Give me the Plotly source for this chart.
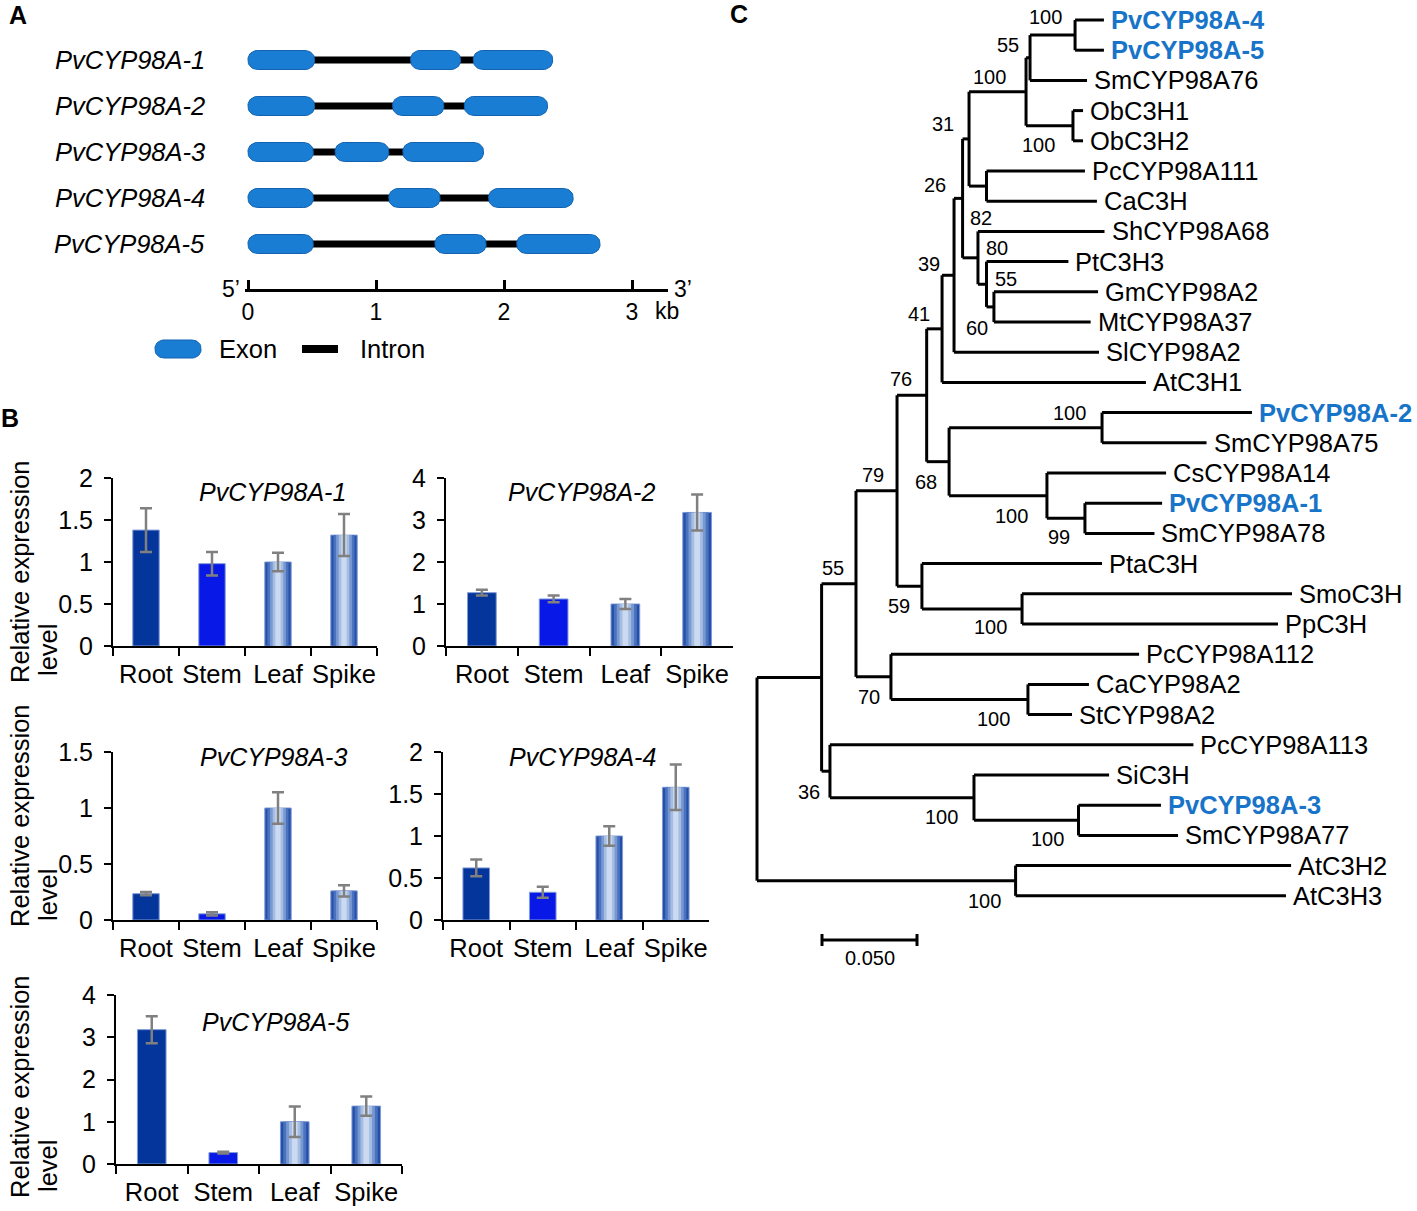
import plotly.graph_objects as go

W, H = 1417, 1211
FONT = "Liberation Sans, Arial, sans-serif"


def fx(px):
    return px / W


def fy(px):
    return 1 - px / H


# ---------------- Panel A data ----------------
gene_names = ["PvCYP98A-1", "PvCYP98A-2", "PvCYP98A-3", "PvCYP98A-4", "PvCYP98A-5"]
exon_starts = [[0.0, 1.27, 1.76], [0.0, 1.13, 1.69], [0.0, 0.68, 1.21], [0.0, 1.10, 1.88], [0.0, 1.46, 2.10]]
exon_ends = [[0.52, 1.66, 2.38], [0.52, 1.53, 2.34], [0.51, 1.10, 1.84], [0.51, 1.50, 2.54], [0.51, 1.86, 2.75]]
kb_ticks = [0, 1, 2, 3]

# ---------------- Panel B data ----------------
tissues = ["Root", "Stem", "Leaf", "Spike"]
expr_titles = ["PvCYP98A-1", "PvCYP98A-2", "PvCYP98A-3", "PvCYP98A-4", "PvCYP98A-5"]
expr1 = [1.38, 0.98, 1.00, 1.32]
err1 = [0.26, 0.14, 0.11, 0.25]
expr2 = [1.27, 1.12, 1.00, 3.18]
err2 = [0.07, 0.08, 0.12, 0.43]
expr3 = [0.235, 0.055, 1.00, 0.26]
err3 = [0.015, 0.015, 0.14, 0.05]
expr4 = [0.62, 0.33, 1.00, 1.58]
err4 = [0.10, 0.065, 0.115, 0.27]
expr5 = [3.18, 0.27, 1.00, 1.37]
err5 = [0.32, 0.02, 0.36, 0.23]
y_max = [2, 4, 1.5, 2, 4]
y_dtick = [0.5, 1, 0.5, 0.5, 1]

# ---------------- Panel C data ----------------
leaf_names = ["PvCYP98A-4", "PvCYP98A-5", "SmCYP98A76", "ObC3H1", "ObC3H2", "PcCYP98A111", "CaC3H",
              "ShCYP98A68", "PtC3H3", "GmCYP98A2", "MtCYP98A37", "SlCYP98A2", "AtC3H1", "PvCYP98A-2",
              "SmCYP98A75", "CsCYP98A14", "PvCYP98A-1", "SmCYP98A78", "PtaC3H", "SmoC3H", "PpC3H",
              "PcCYP98A112", "CaCYP98A2", "StCYP98A2", "PcCYP98A113", "SiC3H", "PvCYP98A-3",
              "SmCYP98A77", "AtC3H2", "AtC3H3"]
leaf_tip = [0.1826, 0.1826, 0.1737, 0.1716, 0.1716, 0.1726, 0.1789,
            0.1829, 0.1639, 0.1795, 0.1756, 0.1800, 0.2047, 0.2605,
            0.2366, 0.2153, 0.2132, 0.2092, 0.1816, 0.2816, 0.2742,
            0.2011, 0.1747, 0.1658, 0.2297, 0.1853, 0.2126,
            0.2216, 0.2811, 0.2784]
node_ids = ["n_a45", "n55a", "n_ob", "n100a", "n_pcca", "n31", "n_gm", "n80", "n82", "n26", "n39", "n41",
            "n_a2", "n99", "n100b", "n68", "n76", "n100c", "n59", "n79", "n100d", "n70", "n55c",
            "n100f", "n100e", "n36", "n_big", "n_at", "root"]
node_children = [["PvCYP98A-4", "PvCYP98A-5"], ["n_a45", "SmCYP98A76"], ["ObC3H1", "ObC3H2"],
                 ["n55a", "n_ob"], ["PcCYP98A111", "CaC3H"], ["n100a", "n_pcca"],
                 ["GmCYP98A2", "MtCYP98A37"], ["PtC3H3", "n_gm"], ["ShCYP98A68", "n80"],
                 ["n31", "n82"], ["n26", "SlCYP98A2"], ["n39", "AtC3H1"],
                 ["PvCYP98A-2", "SmCYP98A75"], ["PvCYP98A-1", "SmCYP98A78"], ["CsCYP98A14", "n99"],
                 ["n_a2", "n100b"], ["n41", "n68"], ["SmoC3H", "PpC3H"], ["PtaC3H", "n100c"],
                 ["n76", "n59"], ["CaCYP98A2", "StCYP98A2"], ["PcCYP98A112", "n100d"], ["n79", "n70"],
                 ["PvCYP98A-3", "SmCYP98A77"], ["SiC3H", "n100f"], ["PcCYP98A113", "n100e"],
                 ["n55c", "n36"], ["AtC3H2", "AtC3H3"], ["n_big", "n_at"]]
node_depth = [0.1674, 0.1437, 0.1663, 0.1416, 0.1208, 0.1116, 0.1247, 0.1208, 0.1163, 0.1082, 0.1037,
              0.0974, 0.1816, 0.1726, 0.1526, 0.1011, 0.0893, 0.1395, 0.0868, 0.0737, 0.1426, 0.0705,
              0.0521, 0.1692, 0.1142, 0.0384, 0.0340, 0.1361, 0.0]
boot_node = ["n_a45", "n55a", "n100a", "n_ob", "n31", "n26", "n82", "n80", "n_gm", "n_gm", "n39", "n41",
             "n76", "n_a2", "n68", "n100b", "n99", "n79", "n59", "n100c", "n55c", "n70", "n100d",
             "n36", "n100e", "n100f", "n_at"]
boot_value = ["100", "55", "100", "100", "31", "26", "82", "80", "55", "60", "39", "41",
              "76", "100", "68", "100", "99", "79", "59", "100", "55", "70", "100",
              "36", "100", "100", "100"]
scale_bar_length = 0.050

# ---------------- styling / layout constants ----------------
EXON_FILL = "#1a7dd4"
EXON_EDGE = "#1262b0"
ROOT_C = "#04359a"
STEM_C = "#0818e6"
GRAD_WIDTHS = [0.40, 0.32, 0.24, 0.16, 0.08]
GRAD_COLORS = ["#2550a8", "#4a72bf", "#7898d2", "#a6bde3", "#cbdaf0"]
BLUE_LABEL = "#1874c8"
FS_MAIN = 25.5
FS_BOOT = 20
# bootstrap label offsets in pixels (dx right, dy down) from their node
boot_offset = [(-30, -18), (-22, -13), (-37, -15), (-34, 19), (-26, -15), (-28, -13), (3, -40), (10, -36),
               (12, -28), (-17, 21), (-25, -11), (-23, -15), (-26, -16), (-33, -15), (-23, 20),
               (-35, 20), (-26, 19), (-24, -16), (-23, 20), (-32, 18), (-23, -16), (-22, 20),
               (-34, 19), (-21, 21), (-32, 19), (-31, 19), (-31, 20)]

fig = go.Figure()
annotations = []

# ================= Panel A =================
PX_PER_KB = 128.0
KB0_PX = 248.0
ROW0_PX, ROW_PX = 60.0, 46.0
A_XPX = (0, 740)
A_YPX = (0, 380)


def kb_from_px(px):
    return (px - KB0_PX) / PX_PER_KB


def row_from_px(py):
    return (py - ROW0_PX) / ROW_PX


def rounded_rect(x0, x1, yc, hx_r, hy, ry, n=10):
    import math
    xs, ys = [], []
    corners = [(x1 - hx_r, yc - hy + ry, -90, 0), (x1 - hx_r, yc + hy - ry, 0, 90),
               (x0 + hx_r, yc + hy - ry, 90, 180), (x0 + hx_r, yc - hy + ry, 180, 270)]
    for cx, cy, a0, a1 in corners:
        for k in range(n + 1):
            a = math.radians(a0 + (a1 - a0) * k / n)
            xs.append(cx + hx_r * math.cos(a))
            ys.append(cy + ry * math.sin(a))
    xs.append(xs[0])
    ys.append(ys[0])
    return xs, ys


EX_HALF = 9.5 / ROW_PX
EX_RX = 9.5 / PX_PER_KB
EX_RY = 8.5 / ROW_PX

for gi, (starts, ends) in enumerate(zip(exon_starts, exon_ends)):
    ix, iy = [], []
    for k in range(len(starts) - 1):
        ix += [ends[k] - 0.02, starts[k + 1] + 0.02, None]
        iy += [gi, gi, None]
    fig.add_trace(go.Scatter(x=ix, y=iy, mode="lines", line=dict(color="black", width=7),
                             xaxis="x", yaxis="y", hoverinfo="skip", showlegend=False))
    for s, e in zip(starts, ends):
        xs, ys = rounded_rect(s, e, gi, EX_RX, EX_HALF, EX_RY)
        fig.add_trace(go.Scatter(x=xs, y=ys, mode="lines", fill="toself", fillcolor=EXON_FILL,
                                 line=dict(color=EXON_EDGE, width=1), xaxis="x", yaxis="y",
                                 hoverinfo="skip", showlegend=False))
    annotations.append(dict(x=0, y=gi, xref="x", yref="y", xshift=-41, text=gene_names[gi],
                            xanchor="right", yanchor="middle", showarrow=False,
                            font=dict(size=FS_MAIN, family=FONT, color="black", style="italic")))

# legend (exon/intron)
leg_row = row_from_px(349)
xs, ys = rounded_rect(kb_from_px(155), kb_from_px(201), leg_row, 9 / PX_PER_KB, 9 / ROW_PX, 8 / ROW_PX)
fig.add_trace(go.Scatter(x=xs, y=ys, mode="lines", fill="toself", fillcolor=EXON_FILL,
                         line=dict(color=EXON_EDGE, width=1), xaxis="x", yaxis="y",
                         hoverinfo="skip", showlegend=False))
fig.add_trace(go.Scatter(x=[kb_from_px(302), kb_from_px(338)], y=[leg_row, leg_row], mode="lines",
                         line=dict(color="black", width=8), xaxis="x", yaxis="y",
                         hoverinfo="skip", showlegend=False))
annotations.append(dict(x=fx(217), y=fy(349), xref="paper", yref="paper", text="Exon",
                        xanchor="left", yanchor="middle", showarrow=False,
                        font=dict(size=FS_MAIN, family=FONT, color="black")))
annotations.append(dict(x=fx(358), y=fy(349), xref="paper", yref="paper", text="Intron",
                        xanchor="left", yanchor="middle", showarrow=False,
                        font=dict(size=FS_MAIN, family=FONT, color="black")))

# kb scale axis (x2) carrier trace
fig.add_trace(go.Scatter(x=[None], y=[None], xaxis="x2", yaxis="y", showlegend=False, hoverinfo="skip"))
for (px, py, t) in [(231, 289, "5’"), (683, 289, "3’"), (667, 311, "kb")]:
    annotations.append(dict(x=fx(px), y=fy(py), xref="paper", yref="paper", text=t,
                            xanchor="center", yanchor="middle", showarrow=False,
                            font=dict(size=23, family=FONT, color="black")))

# ================= Panel B =================
expr_all = [expr1, expr2, expr3, expr4, expr5]
err_all = [err1, err2, err3, err4, err5]
boxes = [(113, 377, 478, 646), (446, 733, 478, 646), (113, 377, 752, 920),
         (443, 709, 752, 920), (116, 402, 995, 1164)]
title_pos = [(272, 492), (581, 492), (273, 757), (582, 757), (275, 1022)]

for ci in range(5):
    n = ci + 3
    xa, ya = "x%d" % n, "y%d" % n
    vals, errs = expr_all[ci], err_all[ci]
    fig.add_trace(go.Bar(x=tissues, y=vals, width=0.4, xaxis=xa, yaxis=ya,
                         marker=dict(color=[ROOT_C, STEM_C, GRAD_COLORS[0], GRAD_COLORS[0]],
                                     line=dict(color="#7f9ad6", width=1)),
                         hoverinfo="skip", showlegend=False))
    for wdt, col in zip(GRAD_WIDTHS[1:], GRAD_COLORS[1:]):
        fig.add_trace(go.Bar(x=tissues[2:], y=vals[2:], width=wdt, xaxis=xa, yaxis=ya,
                             marker=dict(color=col, line=dict(width=0)),
                             hoverinfo="skip", showlegend=False))
    fig.add_trace(go.Scatter(x=tissues, y=vals, mode="markers", xaxis=xa, yaxis=ya,
                             marker=dict(size=1, color="rgba(0,0,0,0)"),
                             error_y=dict(type="data", array=errs, color="#808080", thickness=2.5, width=6),
                             hoverinfo="skip", showlegend=False))
    tx, ty = title_pos[ci]
    annotations.append(dict(x=fx(tx), y=fy(ty), xref="paper", yref="paper", text=expr_titles[ci],
                            xanchor="center", yanchor="middle", showarrow=False,
                            font=dict(size=25, family=FONT, color="black", style="italic")))

for (lx, ly, txt) in [(20, 572, "Relative expression"), (48, 650, "level"),
                      (20, 816, "Relative expression"), (48, 895, "level"),
                      (20, 1087, "Relative expression"), (48, 1166, "level")]:
    annotations.append(dict(x=fx(lx), y=fy(ly), xref="paper", yref="paper", text=txt, textangle=-90,
                            xanchor="center", yanchor="middle", showarrow=False,
                            font=dict(size=FS_MAIN, family=FONT, color="black")))

# ================= Panel C =================
C_X0PX, C_PX_PER_UNIT = 757.0, 1900.0
C_Y0PX, C_ROWPX = 20.0, 30.2

leaf_index = {nm: i for i, nm in enumerate(leaf_names)}
leaf_tip_map = dict(zip(leaf_names, leaf_tip))
node_map = {nid: (ch, d) for nid, ch, d in zip(node_ids, node_children, node_depth)}
pos = {}


def place(name):
    if name in leaf_index:
        pos[name] = (leaf_tip_map[name], float(leaf_index[name]))
        return pos[name]
    ch, d = node_map[name]
    ys = [place(c)[1] for c in ch]
    pos[name] = (d, (min(ys) + max(ys)) / 2.0)
    return pos[name]


place("root")
lx, ly = [], []
for nid in node_ids:
    ch, d = node_map[nid]
    cys = [pos[c][1] for c in ch]
    lx += [d, d, None]
    ly += [min(cys), max(cys), None]
    for c in ch:
        lx += [d, pos[c][0], None]
        ly += [pos[c][1], pos[c][1], None]
fig.add_trace(go.Scatter(x=lx, y=ly, mode="lines", line=dict(color="black", width=3),
                         xaxis="x8", yaxis="y8", hoverinfo="skip", showlegend=False))

for nm in leaf_names:
    x, y = pos[nm]
    hl = nm.startswith("PvCYP98A")
    annotations.append(dict(x=x, y=y, xref="x8", yref="y8", xshift=5,
                            text=("<b>%s</b>" % nm) if hl else nm,
                            xanchor="left", yanchor="middle", showarrow=False,
                            font=dict(size=FS_MAIN, family=FONT, color=BLUE_LABEL if hl else "black")))

for nid, val, (dx, dy) in zip(boot_node, boot_value, boot_offset):
    x, y = pos[nid]
    annotations.append(dict(x=x, y=y, xref="x8", yref="y8", xshift=dx, yshift=-dy, text=val,
                            xanchor="center", yanchor="middle", showarrow=False,
                            font=dict(size=FS_BOOT, family=FONT, color="black")))

sb_x0 = (822 - C_X0PX) / C_PX_PER_UNIT
sb_row = (940 - C_Y0PX) / C_ROWPX
tk = 6 / C_ROWPX
fig.add_trace(go.Scatter(x=[sb_x0, sb_x0 + scale_bar_length, None, sb_x0, sb_x0, None,
                            sb_x0 + scale_bar_length, sb_x0 + scale_bar_length],
                         y=[sb_row, sb_row, None, sb_row - tk, sb_row + tk, None, sb_row - tk, sb_row + tk],
                         mode="lines", line=dict(color="black", width=3), xaxis="x8", yaxis="y8",
                         hoverinfo="skip", showlegend=False))
annotations.append(dict(x=sb_x0 + scale_bar_length / 2, y=(958 - C_Y0PX) / C_ROWPX, xref="x8", yref="y8",
                        text="%.3f" % scale_bar_length, xanchor="center", yanchor="middle", showarrow=False,
                        font=dict(size=FS_BOOT, family=FONT, color="black")))

for (px, py, t) in [(18, 15, "A"), (10, 418, "B"), (739, 14, "C")]:
    annotations.append(dict(x=fx(px), y=fy(py), xref="paper", yref="paper", text="<b>%s</b>" % t,
                            xanchor="center", yanchor="middle", showarrow=False,
                            font=dict(size=25, family=FONT, color="black")))

# ================= Layout =================
layout = dict(
    template="none",
    width=W, height=H, autosize=False, margin=dict(l=0, r=0, t=0, b=0, pad=0),
    paper_bgcolor="white", plot_bgcolor="rgba(0,0,0,0)",
    barmode="overlay", showlegend=False, font=dict(family=FONT, color="black"),
    annotations=annotations,
    xaxis=dict(domain=[fx(A_XPX[0]), fx(A_XPX[1])], automargin=False,
               range=[kb_from_px(A_XPX[0]), kb_from_px(A_XPX[1])], visible=False, fixedrange=True),
    yaxis=dict(domain=[fy(A_YPX[1]), fy(A_YPX[0])], automargin=False,
               range=[row_from_px(A_YPX[1]), row_from_px(A_YPX[0])], visible=False, fixedrange=True),
    xaxis2=dict(domain=[fx(245), fx(668)], range=[kb_from_px(245), kb_from_px(668)], automargin=False,
                anchor="free", position=fy(290), showline=True, linecolor="black", linewidth=3,
                ticks="inside", ticklen=9, tickwidth=3, tickcolor="black", tickvals=kb_ticks,
                ticktext=[str(v) for v in kb_ticks], tickfont=dict(size=23, family=FONT),
                showgrid=False, zeroline=False, fixedrange=True),
    xaxis8=dict(domain=[fx(740), 1], range=[(740 - C_X0PX) / C_PX_PER_UNIT, (W - C_X0PX) / C_PX_PER_UNIT],
                visible=False, fixedrange=True, automargin=False),
    yaxis8=dict(domain=[0, 1], range=[(H - C_Y0PX) / C_ROWPX, (0 - C_Y0PX) / C_ROWPX],
                visible=False, fixedrange=True, automargin=False),
)
for ci, (x0, x1, yt, yb) in enumerate(boxes):
    n = ci + 3
    layout["xaxis%d" % n] = dict(domain=[fx(x0), fx(x1)], anchor="y%d" % n, type="category",
                                 range=[-0.5, 3.5], showline=True, linecolor="black", linewidth=2,
                                 ticks="outside", tickson="boundaries", ticklen=8, tickwidth=2,
                                 tickcolor="black", tickfont=dict(size=FS_MAIN, family=FONT), tickangle=0,
                                 ticklabelstandoff=4, showgrid=False, zeroline=False, fixedrange=True,
                                 automargin=False)
    layout["yaxis%d" % n] = dict(domain=[fy(yb), fy(yt)], anchor="x%d" % n, range=[0, y_max[ci]],
                                 dtick=y_dtick[ci], tick0=0, showline=True, linecolor="black", linewidth=2,
                                 ticks="outside", ticklen=7, tickwidth=2, tickcolor="black",
                                 tickfont=dict(size=25, family=FONT), ticklabelstandoff=6,
                                 showgrid=False, zeroline=False, fixedrange=True, automargin=False)

fig.update_layout(**layout)

PAGE_FIX = (
    "document.body.style.margin='0px';"
    "document.body.style.overflow='hidden';"
)
fig.write_html("out.html", config={"displayModeBar": False}, post_script=PAGE_FIX)
